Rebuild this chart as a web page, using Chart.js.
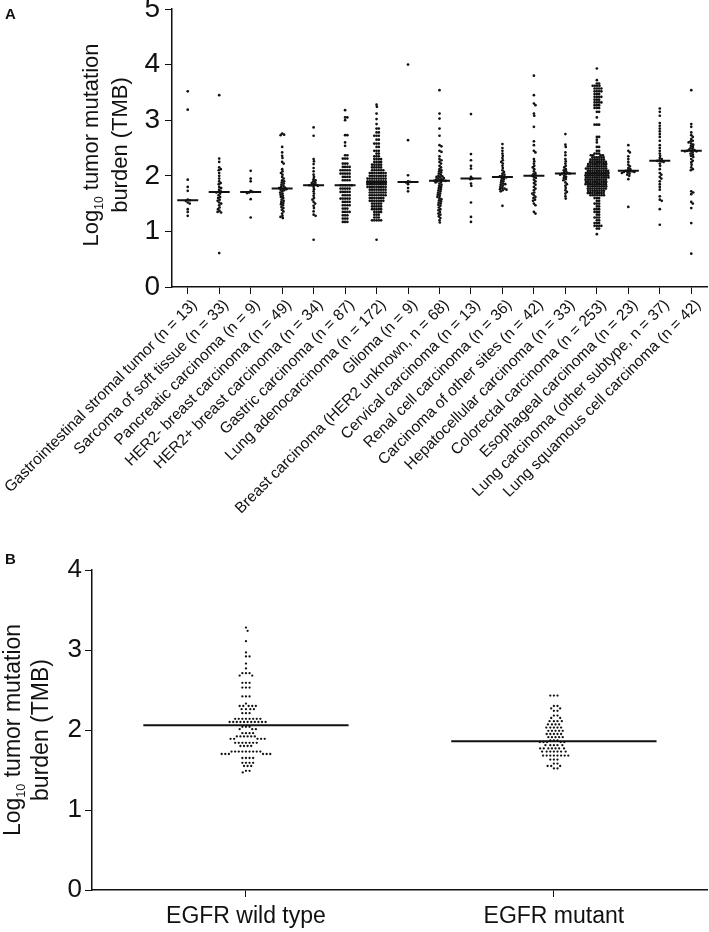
<!DOCTYPE html>
<html>
<head>
<meta charset="utf-8">
<script src="https://cdn.jsdelivr.net/npm/chart.js@4.4.1/dist/chart.umd.min.js"></script>
<style>
  html, body { margin: 0; padding: 0; background: #fff; }
  #page { position: relative; width: 709px; height: 932px; overflow: hidden; }
  .panel { position: absolute; left: 0; width: 709px; }
  .letter { position: absolute; font-family: 'Liberation Sans', Arial, sans-serif; font-weight: bold; font-size: 15px; line-height: 15px; color: #111; }
</style>
</head>
<body>
<div id="page">
  <div class="panel" style="top:0;height:540px"><canvas id="chartA"></canvas></div>
  <div class="panel" style="top:540px;height:392px"><canvas id="chartB"></canvas></div>
  <div class="letter" style="left:5px;top:6px">A</div>
  <div class="letter" style="left:5px;top:551px">B</div>
</div>
<script>
// ---------------- DATA ----------------
const categoriesA = [
  "Gastrointestinal stromal tumor (n = 13)",
  "Sarcoma of soft tissue (n = 33)",
  "Pancreatic carcinoma (n = 9)",
  "HER2- breast carcinoma (n = 49)",
  "HER2+ breast carcinoma (n = 34)",
  "Gastric carcinoma (n = 87)",
  "Lung adenocarcinoma (n = 172)",
  "Glioma (n = 9)",
  "Breast carcinoma (HER2 unknown, n = 68)",
  "Cervical carcinoma (n = 13)",
  "Renal cell carcinoma (n = 36)",
  "Carcinoma of other sites (n = 42)",
  "Hepatocellular carcinoma (n = 33)",
  "Colorectal carcinoma (n = 253)",
  "Esophageal carcinoma (n = 23)",
  "Lung carcinoma (other subtype, n = 37)",
  "Lung squamous cell carcinoma (n = 42)"
];
const yTicksA = [0, 1, 2, 3, 4, 5];
const mediansA = [1.56, 1.71, 1.71, 1.77, 1.83, 1.83, 1.88, 1.89, 1.91, 1.95, 1.98, 2.00, 2.04, 2.04, 2.09, 2.27, 2.45];

// log10 TMB per sample
const gist = [3.52, 3.19, 1.93, 1.80, 1.73, 1.57, 1.56, 1.55, 1.52, 1.50, 1.40, 1.35, 1.28];
const sarcoma = [3.45, 2.31, 2.25, 2.15, 2.12, 2.10, 2.05, 2.00, 1.95, 1.90, 1.87, 1.85, 1.80, 1.78, 1.75, 1.72, 1.71,
  1.70, 1.68, 1.65, 1.62, 1.60, 1.57, 1.55, 1.52, 1.50, 1.47, 1.43, 1.40, 1.37, 1.35, 1.34, 0.61];
const pancreatic = [2.09, 1.95, 1.90, 1.73, 1.71, 1.70, 1.69, 1.58, 1.25];
const her2neg = [2.76, 2.74, 2.73, 2.52, 2.42, 2.36, 2.32, 2.25, 2.22, 2.12, 2.08, 2.05, 2.02, 1.98, 1.95, 1.92, 1.90,
  1.88, 1.86, 1.84, 1.82, 1.80, 1.79, 1.78, 1.77, 1.76, 1.75, 1.74, 1.72, 1.70, 1.68, 1.66, 1.64, 1.62, 1.60, 1.57,
  1.55, 1.53, 1.51, 1.49, 1.47, 1.44, 1.42, 1.39, 1.36, 1.32, 1.28, 1.26, 1.24];
const her2pos = [2.87, 2.72, 2.30, 2.26, 2.21, 2.14, 2.08, 2.02, 1.98, 1.94, 1.92, 1.90, 1.88, 1.87, 1.85, 1.84, 1.83,
  1.83, 1.82, 1.80, 1.76, 1.72, 1.68, 1.64, 1.60, 1.57, 1.53, 1.50, 1.46, 1.42, 1.36, 1.30, 1.28, 0.85];
// [value, number of samples at that value]
const gastricRows = [[3.18,1],[3.05,2],[3.00,1],[2.73,2],[2.60,1],[2.54,1],[2.37,2],[2.31,3],[2.22,3],[2.16,4],
  [2.10,5],[2.04,5],[1.98,4],[1.92,4],[1.83,6],[1.77,5],[1.71,5],[1.65,4],[1.59,5],[1.53,4],[1.47,4],[1.41,3],
  [1.35,4],[1.29,3],[1.23,3],[1.17,3]];
const lungAdenoRows = [[3.28,1],[3.24,1],[3.12,1],[3.02,1],[2.93,1],[2.85,2],[2.78,2],[2.72,3],[2.65,2],[2.58,3],
  [2.52,2],[2.45,3],[2.40,2],[2.35,3],[2.30,4],[2.25,4],[2.20,5],[2.15,5],[2.10,6],[2.05,8],[2.00,8],[1.95,9],
  [1.90,9],[1.85,9],[1.80,9],[1.75,8],[1.70,8],[1.65,8],[1.60,7],[1.55,7],[1.50,5],[1.45,5],[1.40,5],[1.35,4],
  [1.30,3],[1.25,3],[1.20,5],[0.85,1]];
const glioma = [4.00, 2.64, 2.01, 1.90, 1.89, 1.88, 1.85, 1.78, 1.72];
const breastUnknown = [3.54, 3.12, 3.03, 2.85, 2.72, 2.55, 2.53, 2.45, 2.43, 2.35, 2.30, 2.28, 2.25, 2.22, 2.18, 2.15,
  2.12, 2.10, 2.08, 2.06, 2.04, 2.02, 2.00, 1.99, 1.98, 1.97, 1.96, 1.95, 1.94, 1.93, 1.92, 1.92, 1.91, 1.91, 1.90,
  1.89, 1.88, 1.86, 1.84, 1.82, 1.80, 1.78, 1.76, 1.74, 1.72, 1.70, 1.68, 1.66, 1.64, 1.62, 1.60, 1.58, 1.56, 1.54,
  1.52, 1.50, 1.48, 1.46, 1.43, 1.40, 1.38, 1.35, 1.32, 1.30, 1.27, 1.24, 1.20, 1.16];
const cervical = [3.11, 2.39, 2.28, 2.18, 2.13, 1.98, 1.95, 1.94, 1.86, 1.82, 1.52, 1.26, 1.17];
const renal = [2.57, 2.50, 2.45, 2.40, 2.36, 2.32, 2.28, 2.25, 2.22, 2.18, 2.14, 2.10, 2.07, 2.04, 2.02, 2.00, 1.99,
  1.98, 1.97, 1.96, 1.94, 1.92, 1.90, 1.88, 1.86, 1.85, 1.84, 1.82, 1.80, 1.78, 1.77, 1.76, 1.75, 1.74, 1.72, 1.46];
const otherSites = [3.80, 3.45, 3.30, 3.27, 3.12, 3.08, 2.88, 2.62, 2.55, 2.45, 2.42, 2.30, 2.26, 2.22, 2.18, 2.15,
  2.12, 2.08, 2.05, 2.03, 2.01, 2.00, 1.98, 1.96, 1.93, 1.90, 1.87, 1.84, 1.80, 1.77, 1.74, 1.70, 1.68, 1.65, 1.62,
  1.60, 1.57, 1.55, 1.50, 1.47, 1.35, 1.32];
const hepato = [2.75, 2.56, 2.52, 2.42, 2.37, 2.30, 2.26, 2.22, 2.18, 2.15, 2.12, 2.10, 2.08, 2.06, 2.05, 2.04, 2.04,
  2.03, 2.02, 2.00, 1.98, 1.96, 1.94, 1.92, 1.88, 1.85, 1.82, 1.78, 1.74, 1.71, 1.68, 1.63, 1.59];
const colorectalRows = [[3.93,1],[3.72,1],[3.66,2],[3.62,4],[3.57,4],[3.52,4],[3.47,3],[3.42,4],[3.37,3],[3.32,4],
  [3.27,3],[3.22,3],[3.15,2],[3.05,1],[2.92,3],
  [2.70,2],[2.65,1],[2.60,1],[2.52,2],[2.45,2],[2.40,3],
  [2.37,4],[2.33,6],[2.29,7],[2.25,8],[2.21,9],[2.17,9],[2.13,10],[2.09,10],[2.05,11],[2.01,11],[1.97,11],[1.93,10],
  [1.89,10],[1.85,10],[1.81,9],[1.77,9],[1.73,8],[1.69,8],[1.65,7],
  [1.60,3],[1.55,2],[1.50,3],[1.45,2],[1.40,3],[1.35,3],[1.30,2],[1.25,3],[1.20,2],[1.15,3],[1.10,4],[1.05,2],[0.95,1]];
const esophageal = [2.55, 2.45, 2.42, 2.35, 2.30, 2.25, 2.20, 2.17, 2.14, 2.12, 2.10, 2.09, 2.08, 2.08, 2.07, 2.07,
  2.06, 2.05, 2.04, 2.02, 2.00, 1.94, 1.44];
const lungOther = [3.21, 3.15, 3.08, 2.95, 2.90, 2.85, 2.80, 2.75, 2.70, 2.63, 2.55, 2.50, 2.45, 2.40, 2.36, 2.32,
  2.30, 2.28, 2.27, 2.26, 2.25, 2.22, 2.18, 2.12, 2.05, 2.02, 1.98, 1.95, 1.90, 1.85, 1.80, 1.75, 1.63, 1.57, 1.55,
  1.40, 1.12];
const lungSquamous = [3.54, 2.93, 2.88, 2.78, 2.73, 2.70, 2.66, 2.63, 2.62, 2.60, 2.58, 2.56, 2.54, 2.52, 2.50, 2.48,
  2.47, 2.46, 2.45, 2.45, 2.44, 2.44, 2.42, 2.40, 2.38, 2.36, 2.34, 2.30, 2.27, 2.24, 2.20, 2.15, 2.12, 2.10, 1.72,
  1.70, 1.67, 1.53, 1.50, 1.42, 1.15, 0.60];

// Panel B
const categoriesB = ["EGFR wild type", "EGFR mutant"];
const yTicksB = [0, 1, 2, 3, 4];
const mediansB = [2.06, 1.86];
const egfrWildRows = [[3.28,1],[3.24,1],[3.11,1],[2.97,1],[2.92,2],[2.83,1],[2.77,1],[2.71,3],[2.68,2],[2.59,3],
  [2.53,3],[2.42,3],[2.33,1],[2.30,5],[2.26,4],[2.21,3],[2.14,8],[2.10,11],[2.04,3],[2.01,3],[1.96,4],[1.92,6],
  [1.89,5],[1.84,7],[1.80,4],[1.73,9],[1.70,6],[1.65,4],[1.59,4],[1.55,3],[1.49,2],[1.47,1]];
const egfrMutantRows = [[2.43,3],[2.30,2],[2.27,2],[2.24,2],[2.18,2],[2.15,2],[2.11,4],[2.07,4],[2.03,5],[1.99,5],
  [1.95,5],[1.91,5],[1.87,3],[1.85,5],[1.81,5],[1.77,7],[1.73,7],[1.68,8],[1.63,3],[1.58,2],[1.55,3],[1.52,2]];

// ---------------- helpers ----------------
const expand = rows => rows.flatMap(([v, n]) => Array(n).fill(v));
const groupsA = [gist, sarcoma, pancreatic, her2neg, her2pos, expand(gastricRows), expand(lungAdenoRows), glioma,
  breastUnknown, cervical, renal, otherSites, hepato, expand(colorectalRows), esophageal, lungOther, lungSquamous];
const groupsB = [expand(egfrWildRows), expand(egfrMutantRows)];

const FAM = "'Liberation Sans', Arial, Helvetica, sans-serif";
const INK = '#111';
Chart.defaults.font.family = FAM;
Chart.defaults.color = INK;

function medianSegments(meds) {
  const out = [];
  meds.forEach((m, i) => { out.push({x: i - 1/3, y: m}, {x: i + 1/3, y: m}, {x: i, y: null}); });
  return out;
}

// Beeswarm: each sample keeps its value, and is pushed sideways just enough not to overlap others
function swarmPoints(chart, groups, D) {
  const xs = chart.scales.x, ys = chart.scales.y;
  const pxPerX = Math.abs(xs.getPixelForValue(1) - xs.getPixelForValue(0));
  const pts = [];
  groups.forEach((vals, i) => {
    const items = vals.map(v => ({v, py: ys.getPixelForValue(v), px: 0})).sort((a, b) => a.py - b.py);
    const placed = [];
    items.forEach(p => {
      const near = placed.filter(q => Math.abs(q.py - p.py) < D);
      const cands = [0];
      near.forEach(q => {
        const dx = Math.sqrt(Math.max(0, D * D - (q.py - p.py) ** 2));
        cands.push(q.px + dx, q.px - dx);
      });
      cands.sort((a, b) => (Math.abs(a) - Math.abs(b)) || (b - a));
      for (const c of cands) {
        if (near.every(q => (q.px - c) ** 2 + (q.py - p.py) ** 2 >= D * D - 1e-3)) { p.px = c; break; }
      }
      placed.push(p);
    });
    placed.forEach(p => pts.push({x: i + p.px / pxPerX, y: p.v}));
  });
  return pts;
}

function yTitlePlugin(x1, x2, cy, size) {
  return {
    id: 'yTitle',
    afterDraw(chart) {
      const ctx = chart.ctx;
      const lines = [
        {cx: x1, parts: [{t: 'Log', s: size, dy: 0}, {t: '10', s: size * 0.55, dy: size * 0.22}, {t: ' tumor mutation', s: size, dy: 0}]},
        {cx: x2, parts: [{t: 'burden (TMB)', s: size, dy: 0}]}
      ];
      lines.forEach(line => {
        ctx.save();
        ctx.translate(line.cx, cy);
        ctx.rotate(-Math.PI / 2);
        ctx.fillStyle = INK;
        ctx.textAlign = 'left';
        ctx.textBaseline = 'alphabetic';
        let total = 0;
        line.parts.forEach(p => { ctx.font = p.s + 'px ' + FAM; p.w = ctx.measureText(p.t).width; total += p.w; });
        let x = -total / 2;
        const base = size * 0.35;
        line.parts.forEach(p => { ctx.font = p.s + 'px ' + FAM; ctx.fillText(p.t, x, base + p.dy); x += p.w; });
        ctx.restore();
      });
    }
  };
}

function axisGrid() {
  return {drawOnChartArea: false, drawTicks: true, tickLength: 7, color: INK, lineWidth: 1};
}
function axisBorder() {
  return {display: true, color: INK, width: 1.5};
}

function makeChart(id, cfg) {
  const {cats, groups, meds, yMax, yTicks, padTop, padRight, yWidth, xHeight, yFont, yPad, xFont, xRot, xPad,
         xLabelOffset, gap, radius, title} = cfg;
  const chart = new Chart(document.getElementById(id), {
    type: 'scatter',
    data: {
      datasets: [
        {type: 'line', data: medianSegments(meds), borderColor: INK, borderWidth: 2, pointRadius: 0,
         showLine: true, spanGaps: false, order: 0},
        {data: [], pointRadius: radius, pointBackgroundColor: INK, pointBorderWidth: 0, pointHoverRadius: radius, order: 1}
      ]
    },
    options: {
      animation: false, responsive: true, maintainAspectRatio: false,
      layout: {padding: {top: padTop, right: padRight, left: 0, bottom: 0}},
      plugins: {legend: {display: false}, tooltip: {enabled: false}},
      events: [],
      scales: {
        x: {
          type: 'linear', min: -0.5, max: cats.length - 0.5,
          afterBuildTicks: s => { s.ticks = cats.map((c, i) => ({value: i})); },
          afterFit: s => { s.height = xHeight; s.paddingLeft = 0; s.paddingRight = 0; },
          ticks: {autoSkip: false, minRotation: xRot, maxRotation: xRot, font: {size: xFont}, color: INK,
                  padding: xPad, labelOffset: xLabelOffset, callback: v => cats[v]},
          grid: axisGrid(), border: axisBorder()
        },
        y: {
          min: 0, max: yMax,
          afterBuildTicks: s => { s.ticks = yTicks.map(v => ({value: v})); },
          afterFit: s => { s.width = yWidth; s.paddingTop = 0; s.paddingBottom = 0; },
          ticks: {font: {size: yFont}, color: INK, padding: yPad},
          grid: axisGrid(), border: axisBorder()
        }
      }
    },
    plugins: [yTitlePlugin(title.x1, title.x2, title.cy, title.size)]
  });
  chart.data.datasets[1].data = swarmPoints(chart, groups, gap);
  chart.update();
  return chart;
}

makeChart('chartA', {
  cats: categoriesA, groups: groupsA, meds: mediansA, yMax: 5, yTicks: yTicksA,
  padTop: 9, padRight: 2, yWidth: 172, xHeight: 253, yFont: 28, yPad: 5, xFont: 15.5, xRot: 45, xPad: 2,
  xLabelOffset: 7, gap: 2.25, radius: 1.35,
  title: {x1: 90, x2: 119, cy: 145, size: 22}
});
makeChart('chartB', {
  cats: categoriesB, groups: groupsB, meds: mediansB, yMax: 4, yTicks: yTicksB,
  padTop: 30, padRight: 1, yWidth: 92, xHeight: 42, yFont: 26, yPad: 3, xFont: 23, xRot: 0, xPad: 6,
  xLabelOffset: 0, gap: 3.6, radius: 1.15,
  title: {x1: 12, x2: 40, cy: 190, size: 23}
});
</script>
</body>
</html>
